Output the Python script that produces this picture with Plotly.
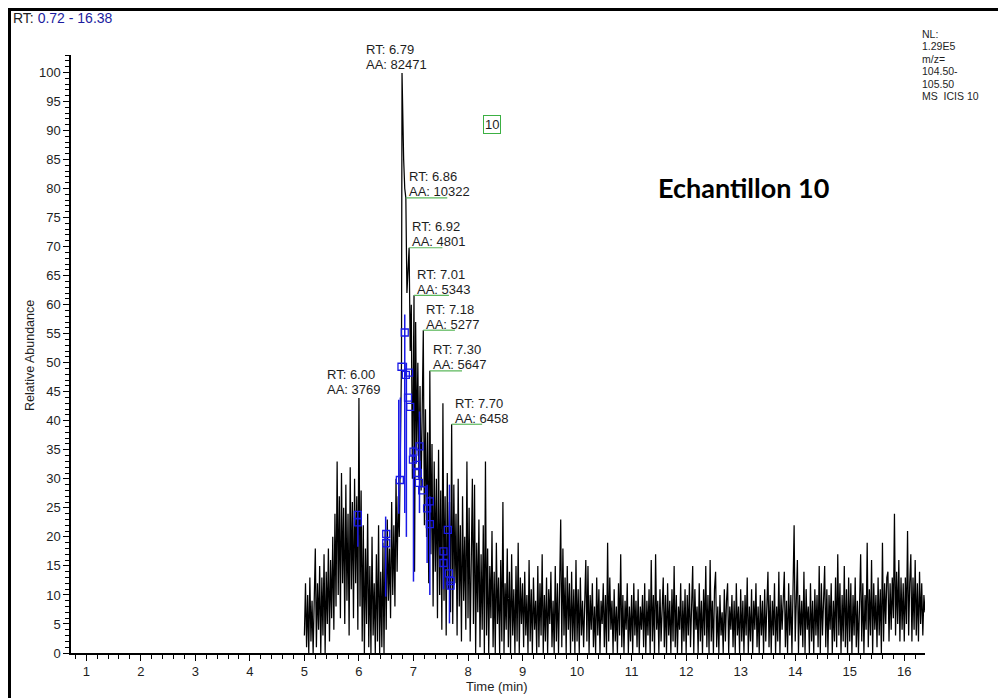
import numpy as np
import pandas as pd
import plotly.graph_objects as go

# ---------------- data ----------------
scan_start = 5.00
scan_step = 0.02

int_5 = [3, 12, 1, 10, 0, 13, 2, 9, 0, 11, 18, 1, 12, 4, 15, 0, 13, 3, 17, 0,
         14, 5, 18, 2, 16, 6, 20, 4, 24, 8, 33, 10, 27, 6, 31, 12, 25, 5, 29, 9,
         24, 3, 32, 11, 26, 6, 30, 12, 27, 4]
int_6 = [44, 8, 28, 2, 22, 0, 18, 5, 24, 1, 15, 0, 20, 3, 12, 0, 17, 2, 22, 0,
         14, 1, 19, 0, 21, 4, 23, 9, 18, 6, 26, 10, 22, 8, 30, 14, 27, 20, 35, 50,
         93, 85, 80, 78, 62, 66, 70, 52, 60, 30]
int_7 = [58, 14, 57, 35, 50, 30, 46, 28, 44, 55, 22, 42, 20, 38, 12, 48, 17, 36, 8, 33,
         14, 30, 6, 35, 10, 28, 4, 43, 9, 27, 3, 31, 11, 26, 7, 39, 5, 29, 12, 24,
         3, 30, 8, 22, 2, 27, 9, 20, 4, 33]
int_8 = [6, 25, 2, 21, 30, 5, 29, 0, 19, 7, 23, 1, 17, 4, 22, 0, 33, 3, 18, 0,
         15, 6, 21, 1, 14, 0, 19, 5, 13, 0, 16, 2, 26, 0, 12, 4, 18, 1, 14, 0,
         17, 3, 11, 0, 15, 2, 19, 0, 13, 5]
int_9 = [12, 1, 14, 3, 10, 0, 16, 2, 11, 0, 13, 4, 9, 0, 15, 1, 12, 3, 17, 0,
         10, 2, 13, 0, 11, 5, 14, 1, 9, 0, 15, 2, 12, 0, 10, 23, 1, 18, 3, 13,
         0, 15, 4, 12, 0, 14, 2, 11, 0, 16]
int_10 = [2, 11, 0, 13, 3, 9, 1, 12, 16, 2, 15, 0, 10, 4, 12, 1, 8, 0, 13, 3,
          11, 0, 9, 5, 12, 1, 10, 0, 19, 2, 13, 4, 9, 0, 11, 2, 8, 0, 12, 3,
          17, 1, 10, 0, 9, 4, 12, 0, 8, 2]
int_11 = [10, 0, 12, 3, 9, 1, 11, 0, 8, 4, 10, 1, 12, 0, 9, 3, 11, 0, 16, 2,
          10, 0, 17, 4, 9, 0, 11, 2, 8, 13, 1, 10, 0, 12, 3, 9, 0, 11, 2, 15,
          1, 10, 0, 8, 4, 12, 0, 9, 2, 11]
int_12 = [0, 10, 3, 12, 1, 9, 15, 0, 11, 4, 8, 0, 12, 2, 9, 0, 11, 3, 15, 1,
          10, 0, 16, 2, 9, 0, 11, 14, 1, 8, 0, 10, 3, 7, 0, 11, 2, 9, 12, 0,
          8, 4, 10, 1, 9, 0, 12, 3, 8, 0]
int_13 = [11, 2, 9, 0, 10, 3, 13, 0, 8, 2, 11, 0, 9, 4, 12, 1, 8, 0, 10, 3,
          9, 0, 11, 2, 8, 14, 1, 10, 0, 9, 3, 12, 0, 8, 2, 14, 0, 10, 4, 11,
          14, 1, 9, 0, 12, 3, 10, 0, 13, 22]
int_14 = [2, 12, 16, 0, 10, 3, 9, 1, 14, 0, 11, 4, 8, 0, 12, 2, 9, 0, 11, 3,
          10, 1, 15, 0, 12, 3, 9, 15, 1, 11, 0, 10, 4, 12, 0, 9, 2, 13, 1, 17,
          3, 12, 0, 10, 2, 15, 1, 11, 0, 13]
int_15 = [2, 12, 0, 10, 3, 13, 1, 9, 0, 11, 17, 2, 12, 0, 10, 4, 19, 1, 11, 3,
          16, 0, 12, 4, 10, 1, 13, 3, 11, 0, 19, 2, 12, 5, 13, 14, 2, 12, 4, 13,
          6, 24, 3, 14, 5, 16, 2, 13, 4, 12]
int_16 = [2, 13, 5, 21, 3, 12, 17, 2, 13, 4, 16, 3, 12, 2, 14, 5, 12, 3, 10, 7]

intensity = (int_5 + int_6 + int_7 + int_8 + int_9 + int_10 + int_11 + int_12
             + int_13 + int_14 + int_15 + int_16)

peak_rt = [6.00, 6.79, 6.86, 6.92, 7.01, 7.18, 7.30, 7.70]
peak_val = [43.9, 99.9, 78.4, 69.8, 61.6, 55.6, 48.6, 39.4]
peak_area = [3769, 82471, 10322, 4801, 5343, 5277, 5647, 6458]
peak_label_side = ["above", "above", "right", "right", "right", "right", "right", "right"]
peak_underline = [0, 0, 0.76, 0.61, 0.64, 0.58, 0.59, 0.56]

blue_sq_rt = [5.98, 5.98, 6.50, 6.50, 6.75, 6.84, 6.78, 6.86, 6.92, 6.90, 6.94, 7.11,
              7.00, 6.99, 7.06, 7.08, 7.10, 7.16, 7.30, 7.25, 7.30, 7.63, 7.55, 7.55,
              7.65, 7.68, 7.68]
blue_sq_val = [23.8, 22.5, 20.5, 18.9, 29.8, 55.2, 49.3, 47.9, 48.3, 44.0, 42.4, 35.6,
               34.7, 33.3, 32.4, 31.0, 29.3, 28.0, 26.1, 24.9, 22.2, 21.2, 17.5, 15.5,
               13.7, 12.4, 11.6]
blue_seg_rt = [5.98, 6.49, 6.73, 6.76, 6.84, 6.87, 7.00, 7.11, 7.25, 7.30, 7.55, 7.66]
blue_seg_lo = [18.3, 9.7, 24.0, 30.0, 24.1, 20.0, 12.3, 24.1, 15.5, 10.0, 11.0, 5.1]
blue_seg_hi = [24.4, 23.5, 43.6, 44.0, 58.3, 50.0, 35.6, 41.6, 29.0, 27.0, 17.8, 29.0]

x_range = [0.72, 16.38]
y_range = [0, 103]

# ---------------- build series ----------------
grid_rt = np.round(scan_start + scan_step * np.arange(len(intensity)), 2)
trace_s = pd.Series(intensity, index=grid_rt, dtype=float)
for rt, v in zip(peak_rt, peak_val):
    trace_s.loc[round(rt, 2)] = v
trace_s = trace_s.sort_index()

seg_x, seg_y = [], []
for rt, lo, hi in zip(blue_seg_rt, blue_seg_lo, blue_seg_hi):
    seg_x += [rt, rt, None]
    seg_y += [lo, hi, None]

# ---------------- figure ----------------
W, H = 998, 698
L, R, T, B = 71, 73, 55, 45
PW, PH = W - L - R, H - T - B


def px(x):
    return (x - L) / PW


def py(y):
    return (H - B - y) / PH


FONT = "Liberation Sans, Arial, sans-serif"
TXT = "#1e1e1e"

fig = go.Figure()
fig.add_trace(go.Scatter(x=trace_s.index, y=trace_s.values, mode="lines",
                         line=dict(color="black", width=1.25), hoverinfo="skip"))
fig.add_trace(go.Scatter(x=seg_x, y=seg_y, mode="lines",
                         line=dict(color="#1a1ae6", width=1.5), hoverinfo="skip"))
fig.add_trace(go.Scatter(x=blue_sq_rt, y=blue_sq_val, mode="markers",
                         marker=dict(symbol="square-open", size=7,
                                     color="#1a1ae6", line=dict(width=1.3)),
                         hoverinfo="skip"))

annotations = []
shapes = []
for rt, v, a, side, ul in zip(peak_rt, peak_val, peak_area, peak_label_side, peak_underline):
    if side == "above":
        s_rt, s_aa = 23.5, 8.5
        xs = -37 if v > 90 else -33
    else:
        s_rt, s_aa, xs = 21, 6, 2
    annotations.append(dict(x=rt, y=v, xref="x", yref="y", text=f"RT: {rt:.2f}",
                            showarrow=False, xanchor="left", yanchor="middle",
                            yshift=s_rt, xshift=xs, borderpad=0,
                            font=dict(size=13, color=TXT)))
    annotations.append(dict(x=rt, y=v, xref="x", yref="y", text=f"AA: {a}",
                            showarrow=False, xanchor="left", yanchor="middle",
                            yshift=s_aa, xshift=xs, borderpad=0,
                            font=dict(size=13, color=TXT)))
    if ul:
        shapes.append(dict(type="line", xref="x", yref="y", x0=rt, x1=rt + ul,
                           y0=v, y1=v, line=dict(color="#5cb85c", width=1.2)))

# header text
annotations.append(dict(x=px(11), y=py(18), xref="paper", yref="paper",
                        text="RT: <span style='color:#1c1ca0'>0.72 - 16.38</span>",
                        showarrow=False, xanchor="left", yanchor="middle",
                        font=dict(size=14, color=TXT)))
nl_lines = ["NL:", "1.29E5", "m/z=", "104.50-", "105.50", "MS\u00a0\u00a0ICIS 10"]
for i, line in enumerate(nl_lines):
    annotations.append(dict(x=px(921), y=py(34 + i * 12.4), xref="paper", yref="paper",
                            text=line, showarrow=False, xanchor="left", yanchor="middle",
                            borderpad=0, font=dict(size=10.5, color=TXT)))
annotations.append(dict(x=px(743.5), y=py(188), xref="paper", yref="paper",
                        text="<b>Echantillon 10</b>", showarrow=False,
                        xanchor="center", yanchor="middle",
                        font=dict(size=27, color="black", family="Lato, Open Sans, sans-serif")))
annotations.append(dict(x=px(491.5), y=py(124.5), xref="paper", yref="paper",
                        text="10", showarrow=False, xanchor="center", yanchor="middle",
                        bordercolor="#3cb043", borderwidth=1, borderpad=1,
                        font=dict(size=13, color=TXT)))
annotations.append(dict(x=px(497), y=py(686), xref="paper", yref="paper",
                        text="Time (min)", showarrow=False, xanchor="center",
                        yanchor="middle", font=dict(size=13, color=TXT)))
annotations.append(dict(x=px(30), y=py(356), xref="paper", yref="paper",
                        text="Relative Abundance", showarrow=False, textangle=-90,
                        xanchor="center", yanchor="middle", font=dict(size=12.5, color=TXT)))

# outer frame (left and top edges visible)
shapes.append(dict(type="rect", xref="paper", yref="paper",
                   x0=px(9.5), x1=px(1010), y0=py(720), y1=py(9.5),
                   line=dict(color="black", width=3), layer="above"))

axis_common = dict(showline=True, linecolor="black", linewidth=1.5, showgrid=False,
                   zeroline=False, ticks="outside", tickcolor="black", tickwidth=1,
                   ticklen=6, tickfont=dict(size=13, color=TXT, family=FONT))
fig.update_xaxes(range=x_range, tickmode="linear", tick0=0, dtick=1,
                 minor=dict(ticks="outside", dtick=0.2, tick0=0, ticklen=4,
                            tickcolor="black", showgrid=False),
                 **axis_common)
fig.update_yaxes(range=y_range, tickmode="linear", tick0=0, dtick=5,
                 minor=dict(ticks="outside", dtick=1, tick0=0, ticklen=4,
                            tickcolor="black", showgrid=False),
                 **axis_common)

fig.update_layout(width=W, height=H, margin=dict(l=L, r=R, t=T, b=B),
                  plot_bgcolor="white", paper_bgcolor="white", showlegend=False,
                  font=dict(family=FONT, color=TXT),
                  annotations=annotations, shapes=shapes)

fig.write_html("out.html")
